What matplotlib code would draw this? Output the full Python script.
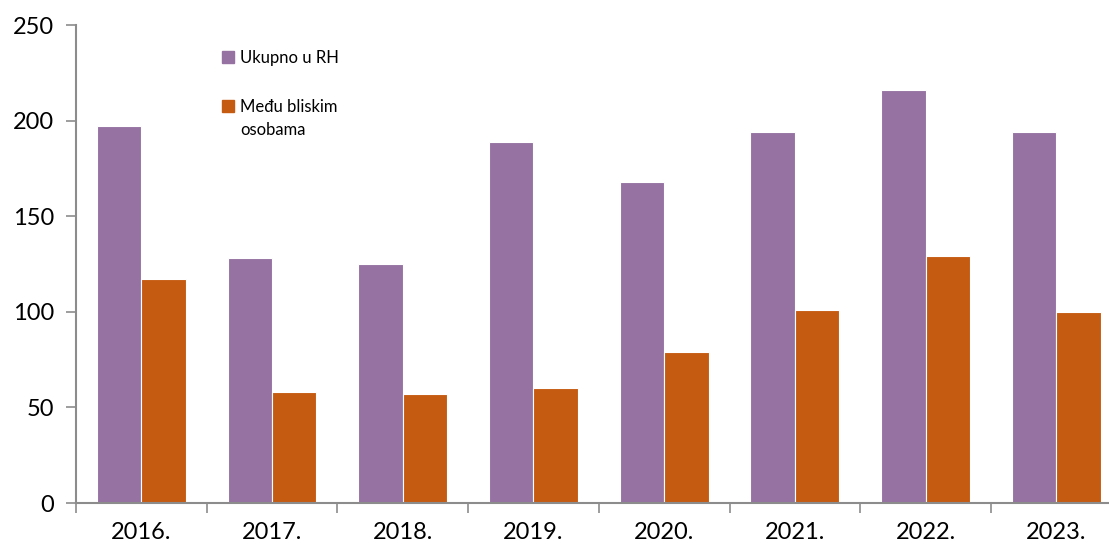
import numpy as np
import matplotlib.pyplot as plt
from matplotlib.patches import Patch

godine = ['2016.', '2017.', '2018.', '2019.', '2020.', '2021.', '2022.', '2023.']
ukupno = [197, 128, 125, 189, 168, 194, 216, 194]
bliske = [117, 58, 57, 60, 79, 101, 129, 100]

ljubicasta = '#9572A1'
narancasta = '#C55A11'
siva = '#8C8C8C'

plt.rcParams['font.family'] = ['Lato', 'DejaVu Sans']

fig = plt.figure(figsize=(11.09, 5.48), dpi=100)
ax = fig.add_axes([76 / 1109, 45 / 548, 1045.6 / 1109, 478 / 548])

x = np.arange(len(godine))
w = 0.34
ax.bar(x - w / 2, ukupno, width=w, color=ljubicasta, edgecolor='white', linewidth=0.8)
ax.bar(x + w / 2, bliske, width=w, color=narancasta, edgecolor='white', linewidth=0.8)

ax.set_xlim(-0.5, len(godine) - 0.5)
ax.set_ylim(0, 250)
ax.set_yticks([0, 50, 100, 150, 200, 250])

# granice kategorija kao glavne oznake, nazivi godina na sporednim
ax.set_xticks(np.arange(-0.5, len(godine), 1.0))
ax.set_xticklabels([])
ax.set_xticks(x, minor=True)
ax.set_xticklabels(godine, minor=True)
ax.tick_params(axis='x', which='major', length=7, color=siva, width=1.2)
ax.tick_params(axis='x', which='minor', length=0, pad=14, labelsize=17)
ax.tick_params(axis='y', length=7, color=siva, width=1.2, pad=9, labelsize=17)

for s in ['top', 'right']:
    ax.spines[s].set_visible(False)
for s in ['left', 'bottom']:
    ax.spines[s].set_color(siva)
    ax.spines[s].set_linewidth(1.5)

handles = [Patch(color=ljubicasta), Patch(color=narancasta)]
leg = ax.legend(handles, ['Ukupno u RH', 'Među bliskim'], frameon=False,
                loc='upper left', bbox_to_anchor=(0.125, 0.98), fontsize=12,
                handlelength=0.75, handleheight=0.75, handletextpad=0.35, labelspacing=2.0)

# drugi red druge stavke legende, poravnat s tekstom iznad
fig.canvas.draw()
bb = leg.get_texts()[1].get_window_extent()
x0, y0 = fig.transFigure.inverted().transform((bb.x0, bb.y0 - 23))
fig.text(x0, y0, 'osobama', fontsize=12, ha='left', va='bottom')

fig.savefig('out.png', dpi=100)
